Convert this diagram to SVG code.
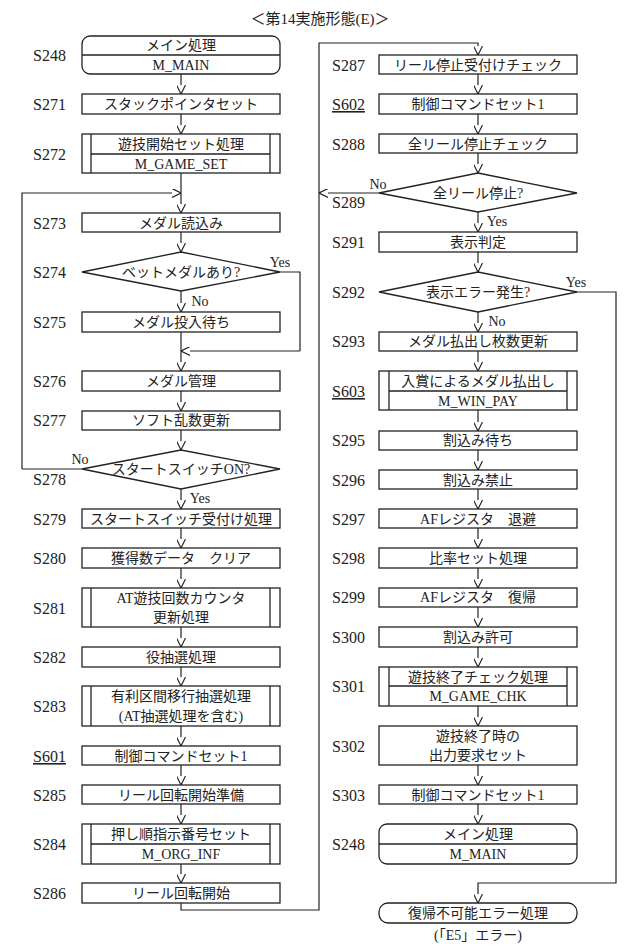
<svg xmlns="http://www.w3.org/2000/svg" width="640" height="948" viewBox="0 0 640 948">
<defs>
<marker id="a" viewBox="0 0 10 10" refX="10" refY="5" markerWidth="9" markerHeight="9" orient="auto" markerUnits="userSpaceOnUse"><path d="M0,0 L10,5 L0,10" fill="none" stroke="#222" stroke-width="1.2"/></marker>
<style>
rect,path,polygon,line{fill:#fff;stroke:#222;stroke-width:1.3}
line{fill:none}
text{font-family:"Liberation Serif","Noto Sans CJK JP",serif;font-size:14px;fill:#222;text-anchor:middle}
.l{font-size:16px;text-anchor:start}
.u{text-decoration:underline}
.c path{fill:none;stroke:#222;stroke-width:1.2;marker-end:url(#a)}
.c .n{marker-end:none}
</style>
</defs>
<text x="320" y="24" style="font-size:15px">＜第14実施形態(E)＞</text>

<g class="c" id="connectors">
<path d="M181,74V94"/><path d="M181,114V134"/><path d="M181,173V213"/>
<path d="M22,469V193H181"/>
<path d="M181,232V252"/><path d="M181,291V312"/>
<path class="n" d="M280,272H300V351"/><path d="M300,351H181"/>
<path d="M181,332V371"/><path d="M181,391V411"/><path d="M181,430V450"/>
<path class="n" d="M82,469H22"/>
<path d="M181,489V509"/><path d="M181,528V548"/><path d="M181,568V588"/>
<path d="M181,627V647"/><path d="M181,667V686"/><path d="M181,726V746"/>
<path d="M181,765V785"/><path d="M181,804V824"/><path d="M181,864V883"/>
<path d="M181,903V910H319V43H478V55"/>
<path d="M478,74V94"/><path d="M478,114V134"/><path d="M478,153V173"/>
<path d="M379,193H319"/>
<path d="M478,212V232"/><path d="M478,252V272"/><path d="M478,312V332"/>
<path d="M478,351V371"/><path d="M478,410V431"/><path d="M478,450V470"/>
<path d="M478,489V509"/><path d="M478,528V548"/><path d="M478,568V588"/>
<path d="M478,607V627"/><path d="M478,647V667"/><path d="M478,706V726"/>
<path d="M478,765V785"/><path d="M478,804V824"/>
<path d="M577,292H616V883H478V903"/>
</g>
<g id="labels">
<text x="280" y="267">Yes</text><text x="200" y="306">No</text>
<text x="80" y="464">No</text><text x="200" y="503">Yes</text>
<text x="378" y="189">No</text><text x="497" y="226">Yes</text>
<text x="576" y="287">Yes</text><text x="497" y="326">No</text>
</g>

<g id="S248a"><text class="l" x="33" y="61">S248</text><rect x="82" y="36" width="198" height="38" rx="8"/><line x1="82" y1="55" x2="280" y2="55"/><text x="181" y="50">メイン処理</text><text x="181" y="70">M_MAIN</text></g>
<g id="S271"><text class="l" x="33" y="110">S271</text><rect x="82" y="94" width="198" height="20"/><text x="181" y="109">スタックポインタセット</text></g>
<g id="S272"><text class="l" x="33" y="160">S272</text><rect x="82" y="134" width="198" height="39"/><line x1="91" y1="134" x2="91" y2="173"/><line x1="270" y1="134" x2="270" y2="173"/><line x1="91" y1="154" x2="270" y2="154"/><text x="181" y="149">遊技開始セット処理</text><text x="181" y="169">M_GAME_SET</text></g>
<g id="S273"><text class="l" x="33" y="229">S273</text><rect x="82" y="213" width="198" height="19"/><text x="181" y="228">メダル読込み</text></g>
<g id="S274"><text class="l" x="33" y="278">S274</text><polygon points="82,272 181,252 280,272 181,291"/><text x="181" y="277">ベットメダルあり?</text></g>
<g id="S275"><text class="l" x="33" y="328">S275</text><rect x="82" y="312" width="198" height="20"/><text x="181" y="327">メダル投入待ち</text></g>
<g id="S276"><text class="l" x="33" y="387">S276</text><rect x="82" y="371" width="198" height="20"/><text x="181" y="386">メダル管理</text></g>
<g id="S277"><text class="l" x="33" y="426">S277</text><rect x="82" y="411" width="198" height="19"/><text x="181" y="425">ソフト乱数更新</text></g>
<g id="S278"><text class="l" x="33" y="485">S278</text><polygon points="82,469 181,450 280,469 181,489"/><text x="181" y="474">スタートスイッチON?</text></g>
<g id="S279"><text class="l" x="33" y="525">S279</text><rect x="82" y="509" width="198" height="19"/><text x="181" y="524">スタートスイッチ受付け処理</text></g>
<g id="S280"><text class="l" x="33" y="564">S280</text><rect x="82" y="548" width="198" height="20"/><text x="181" y="563">獲得数データ　クリア</text></g>
<g id="S281"><text class="l" x="33" y="614">S281</text><rect x="82" y="588" width="198" height="39"/><line x1="91" y1="588" x2="91" y2="627"/><line x1="270" y1="588" x2="270" y2="627"/><text x="181" y="603">AT遊技回数カウンタ</text><text x="181" y="622">更新処理</text></g>
<g id="S282"><text class="l" x="33" y="663">S282</text><rect x="82" y="647" width="198" height="20"/><text x="181" y="662">役抽選処理</text></g>
<g id="S283"><text class="l" x="33" y="712">S283</text><rect x="82" y="686" width="198" height="40"/><line x1="91" y1="686" x2="91" y2="726"/><line x1="270" y1="686" x2="270" y2="726"/><text x="181" y="701">有利区間移行抽選処理</text><text x="181" y="721">(AT抽選処理を含む)</text></g>
<g id="S601"><text class="l u" x="33" y="762">S601</text><rect x="82" y="746" width="198" height="19"/><text x="181" y="761">制御コマンドセット1</text></g>
<g id="S285"><text class="l" x="33" y="801">S285</text><rect x="82" y="785" width="198" height="19"/><text x="181" y="800">リール回転開始準備</text></g>
<g id="S284"><text class="l" x="33" y="850">S284</text><rect x="82" y="824" width="198" height="40"/><line x1="91" y1="824" x2="91" y2="864"/><line x1="270" y1="824" x2="270" y2="864"/><line x1="91" y1="844" x2="270" y2="844"/><text x="181" y="839">押し順指示番号セット</text><text x="181" y="859">M_ORG_INF</text></g>
<g id="S286"><text class="l" x="33" y="899">S286</text><rect x="82" y="883" width="198" height="20"/><text x="181" y="898">リール回転開始</text></g>

<g id="S287"><text class="l" x="332" y="71">S287</text><rect x="379" y="55" width="198" height="19"/><text x="478" y="70">リール停止受付けチェック</text></g>
<g id="S602"><text class="l u" x="332" y="110">S602</text><rect x="379" y="94" width="198" height="20"/><text x="478" y="109">制御コマンドセット1</text></g>
<g id="S288"><text class="l" x="332" y="150">S288</text><rect x="379" y="134" width="198" height="19"/><text x="478" y="149">全リール停止チェック</text></g>
<g id="S289"><text class="l" x="332" y="208">S289</text><polygon points="379,193 478,173 577,193 478,212"/><text x="478" y="198">全リール停止?</text></g>
<g id="S291"><text class="l" x="332" y="248">S291</text><rect x="379" y="232" width="198" height="20"/><text x="478" y="247">表示判定</text></g>
<g id="S292"><text class="l" x="332" y="298">S292</text><polygon points="379,292 478,272 577,292 478,312"/><text x="478" y="297">表示エラー発生?</text></g>
<g id="S293"><text class="l" x="332" y="347">S293</text><rect x="379" y="332" width="198" height="19"/><text x="478" y="346">メダル払出し枚数更新</text></g>
<g id="S603"><text class="l u" x="332" y="397">S603</text><rect x="379" y="371" width="198" height="39"/><line x1="389" y1="371" x2="389" y2="410"/><line x1="567" y1="371" x2="567" y2="410"/><line x1="389" y1="391" x2="567" y2="391"/><text x="478" y="386">入賞によるメダル払出し</text><text x="478" y="406">M_WIN_PAY</text></g>
<g id="S295"><text class="l" x="332" y="446">S295</text><rect x="379" y="431" width="198" height="19"/><text x="478" y="445">割込み待ち</text></g>
<g id="S296"><text class="l" x="332" y="486">S296</text><rect x="379" y="470" width="198" height="19"/><text x="478" y="485">割込み禁止</text></g>
<g id="S297"><text class="l" x="332" y="525">S297</text><rect x="379" y="509" width="198" height="19"/><text x="478" y="524">AFレジスタ　退避</text></g>
<g id="S298"><text class="l" x="332" y="564">S298</text><rect x="379" y="548" width="198" height="20"/><text x="478" y="563">比率セット処理</text></g>
<g id="S299"><text class="l" x="332" y="603">S299</text><rect x="379" y="588" width="198" height="19"/><text x="478" y="602">AFレジスタ　復帰</text></g>
<g id="S300"><text class="l" x="332" y="643">S300</text><rect x="379" y="627" width="198" height="20"/><text x="478" y="642">割込み許可</text></g>
<g id="S301"><text class="l" x="332" y="692">S301</text><rect x="379" y="667" width="198" height="39"/><line x1="389" y1="667" x2="389" y2="706"/><line x1="567" y1="667" x2="567" y2="706"/><line x1="389" y1="686" x2="567" y2="686"/><text x="478" y="682">遊技終了チェック処理</text><text x="478" y="701">M_GAME_CHK</text></g>
<g id="S302"><text class="l" x="332" y="752">S302</text><rect x="379" y="726" width="198" height="39"/><text x="478" y="741">遊技終了時の</text><text x="478" y="760">出力要求セット</text></g>
<g id="S303"><text class="l" x="332" y="801">S303</text><rect x="379" y="785" width="198" height="19"/><text x="478" y="800">制御コマンドセット1</text></g>
<g id="S248b"><text class="l" x="332" y="850">S248</text><rect x="379" y="824" width="198" height="40" rx="8"/><line x1="379" y1="844" x2="577" y2="844"/><text x="478" y="839">メイン処理</text><text x="478" y="859">M_MAIN</text></g>
<g id="E5"><rect x="379" y="903" width="198" height="20" rx="9"/><text x="478" y="918">復帰不可能エラー処理</text><text x="478" y="940">(「E5」エラー)</text></g>
</svg>
